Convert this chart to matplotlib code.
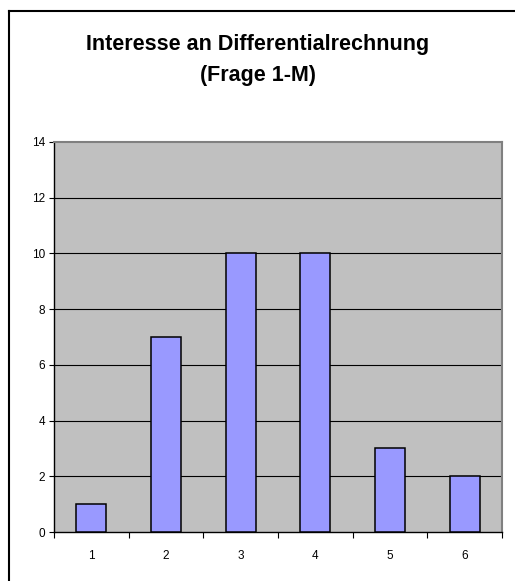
import numpy as np
import matplotlib.pyplot as plt
from matplotlib.lines import Line2D

# Antworten zu Frage 1-M
kategorien = [1, 2, 3, 4, 5, 6]
anzahl = [1, 7, 10, 10, 3, 2]
y_ticks = [0, 2, 4, 6, 8, 10, 12, 14]

plt.rcParams['font.family'] = ['Liberation Sans', 'DejaVu Sans']

fig = plt.figure(figsize=(5.15, 5.81), dpi=100)
ax = fig.add_axes([0.1049, 0.0843, 0.8699, 0.6713])

x = np.arange(len(kategorien)) + 1
ax.set_facecolor('#C0C0C0')
ax.bar(x, anzahl, width=0.4, color='#9999FF', edgecolor='black', linewidth=1.1, zorder=3)

ax.set_xlim(0.5, 6.5)
ax.set_ylim(0, 14)
ax.set_yticks(y_ticks)
ax.set_yticklabels([str(v) for v in y_ticks], fontsize=8.5)
for v in y_ticks[1:-1]:
    ax.axhline(v, color='black', linewidth=0.8, zorder=1)

# Kategorien mittig, Teilstriche an den Grenzen
ax.set_xticks(x)
ax.set_xticklabels([str(k) for k in kategorien], fontsize=8.5)
ax.set_xticks(np.arange(0.5, 7.0, 1.0), minor=True)
ax.tick_params(axis='x', which='major', length=0, pad=13)
ax.tick_params(axis='x', which='minor', length=4, width=0.8, direction='out')
ax.tick_params(axis='y', length=3.5, width=0.8, pad=3)

for s in ['top', 'right']:
    ax.spines[s].set_color('#808080')
    ax.spines[s].set_linewidth(1.5)
for s in ['left', 'bottom']:
    ax.spines[s].set_color('black')
    ax.spines[s].set_linewidth(1.0)

fig.text(0.5, 1 - 50 / 581, 'Interesse an Differentialrechnung', ha='center', va='baseline',
         fontsize=15.5, fontweight='bold')
fig.text(0.5, 1 - 81 / 581, '(Frage 1-M)', ha='center', va='baseline',
         fontsize=15.5, fontweight='bold')

# Rahmen um das Diagramm
fig.add_artist(Line2D([9 / 515, 9 / 515], [0, 1 - 11 / 581], color='black', linewidth=1.5))
fig.add_artist(Line2D([9 / 515, 1], [1 - 11 / 581, 1 - 11 / 581], color='black', linewidth=1.5))

fig.savefig('out.png', dpi=100)
